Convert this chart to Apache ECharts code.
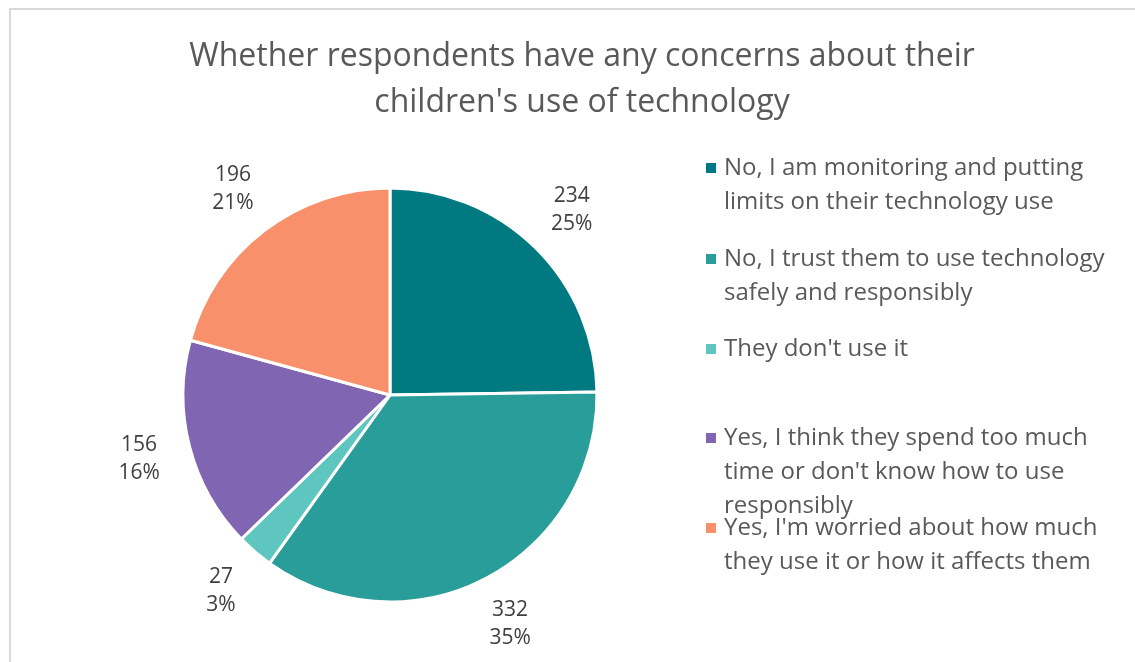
<!DOCTYPE html>
<html>
<head>
<meta charset="utf-8">
<script src="https://cdn.jsdelivr.net/npm/echarts@6/dist/echarts.min.js"></script>
<style>
  html, body { margin: 0; padding: 0; background: #ffffff; }
  #chart { width: 1135px; height: 662px; }
</style>
</head>
<body>
<div id="chart"></div>
<script>
// Survey answers and respondent counts
const categories = [
  "No, I am monitoring and putting limits on their technology use",
  "No, I trust them to use technology safely and responsibly",
  "They don't use it",
  "Yes, I think they spend too much time or don't know how to use responsibly",
  "Yes, I'm worried about how much they use it or how it affects them"
];
// Wrapped legend lines for each answer
const legendLines = [
  ["No, I am monitoring and putting", "limits on their technology use"],
  ["No, I trust them to use technology", "safely and responsibly"],
  ["They don't use it"],
  ["Yes, I think they spend too much", "time or don't know how to use", "responsibly"],
  ["Yes, I'm worried about how much", "they use it or how it affects them"]
];
const counts = [234, 332, 27, 156, 196];
const colors = ["#007A80", "#289D99", "#5EC6BE", "#8066B2", "#F8916B"];

const FONT = "'Open Sans', 'Noto Sans', sans-serif";
const TEXT_GREY = "#595959";
const LEGEND_FS = 24;
const LEGEND_LH = 34;
const legendFirstLineY = [168, 259, 349, 438, 528];

const pieData = categories.map((name, i) => ({ value: counts[i], name: name }));

// Legend rich styles: coloured square on the first line, blank indent on the rest
const legendRich = {
  g: { width: 8, lineHeight: LEGEND_LH },
  sp: { width: 18, lineHeight: LEGEND_LH },
  t: { fontSize: LEGEND_FS, color: TEXT_GREY, fontFamily: FONT, lineHeight: LEGEND_LH }
};
colors.forEach((c, i) => {
  legendRich['sq' + i] = { width: 10, height: 10, backgroundColor: c, verticalAlign: 'middle', lineHeight: LEGEND_LH };
});

const legends = categories.map((name, i) => ({
  data: [name],
  orient: 'vertical',
  left: 700,
  top: legendFirstLineY[i] - LEGEND_LH / 2,
  padding: 0,
  itemWidth: 0,
  itemHeight: 0,
  selectedMode: false,
  formatter: function (n) {
    const k = categories.indexOf(n);
    return legendLines[k].map((line, j) =>
      (j === 0 ? '{sq' + k + '|}{g|}' : '{sp|}') + '{t|' + line + '}'
    ).join('\n');
  },
  textStyle: { fontSize: LEGEND_FS, color: TEXT_GREY, fontFamily: FONT, lineHeight: LEGEND_LH, rich: legendRich }
}));

const chart = echarts.init(document.getElementById('chart'), null, { renderer: 'canvas' });
chart.setOption({
  backgroundColor: '#ffffff',
  animation: false,
  color: colors,
  graphic: [{
    type: 'rect',
    shape: { x: 10, y: 9, width: 1200, height: 700 },
    style: { fill: 'none', stroke: '#D9D9D9', lineWidth: 2 },
    silent: true
  }],
  title: {
    text: "Whether respondents have any concerns about their\nchildren's use of technology",
    left: 577,
    top: 29,
    textAlign: 'center',
    textStyle: { fontSize: 32, fontWeight: 'normal', color: TEXT_GREY, fontFamily: FONT, lineHeight: 46 }
  },
  legend: legends,
  series: [
    {
      type: 'pie',
      center: [390, 395],
      radius: 207,
      startAngle: 90,
      clockwise: true,
      data: pieData,
      label: { show: false },
      labelLine: { show: false },
      itemStyle: { borderColor: '#ffffff', borderWidth: 3 },
      emphasis: { disabled: true }
    },
    {
      // value / percentage labels set just outside the pie
      type: 'pie',
      center: [390, 395],
      radius: [228, 284],
      startAngle: 90,
      clockwise: true,
      silent: true,
      percentPrecision: 0,
      data: pieData,
      itemStyle: { color: 'rgba(0,0,0,0)' },
      labelLine: { show: false },
      label: {
        show: true,
        position: 'inside',
        formatter: '{c}\n{d}%',
        fontSize: 21,
        lineHeight: 28,
        color: '#404040',
        fontFamily: FONT
      },
      emphasis: { disabled: true }
    }
  ]
});
</script>
</body>
</html>
